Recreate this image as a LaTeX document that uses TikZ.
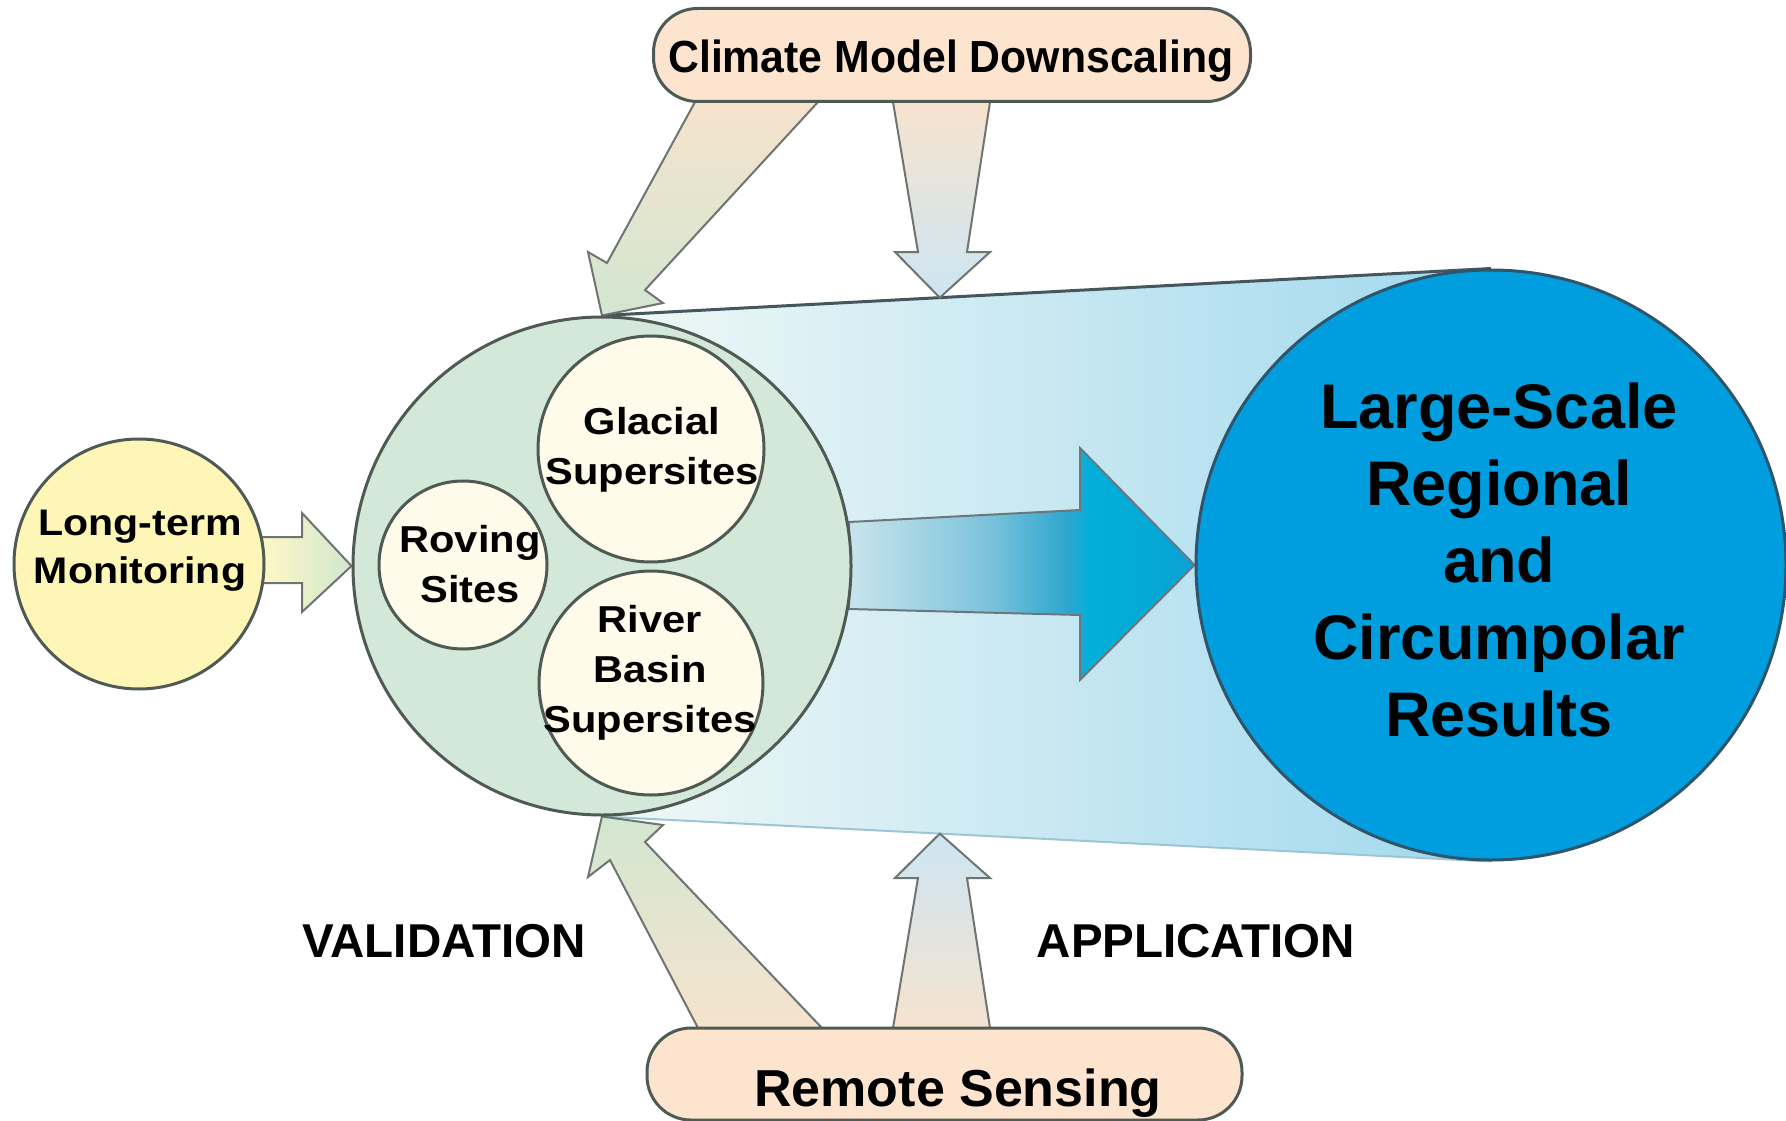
\documentclass[tikz,border=0pt]{standalone}
\usepackage{fontspec}
\setmainfont{Liberation Sans}
\newfontfamily\widesans{Liberation Sans}[FakeStretch=1.11]
\newfontfamily\narrowsans{Liberation Sans}[FakeStretch=0.95]
\usetikzlibrary{calc,backgrounds}

\definecolor{edgegray}{HTML}{4F5A55}
\definecolor{sage}{HTML}{D3E8D9}
\definecolor{cream}{HTML}{FEFBEA}
\definecolor{lemon}{HTML}{FDF6B6}
\definecolor{peach}{HTML}{FDE4CE}
\definecolor{skyblue}{HTML}{009EDF}
\definecolor{resedge}{HTML}{2E556A}
\definecolor{arrowedge}{HTML}{6E7470}
\definecolor{greenpale}{HTML}{D2E6D0}
\definecolor{bluepale}{HTML}{CDE5F3}
\definecolor{peachpale}{HTML}{F6E3CE}
\definecolor{bodyleft}{HTML}{F0F8F6}
\definecolor{bodyright}{HTML}{A0D8EE}
\definecolor{cylline}{HTML}{45565C}
\definecolor{cylbottom}{HTML}{9CC6D6}
\definecolor{arrA}{HTML}{C8E4EC}
\definecolor{arrB}{HTML}{7DC3DC}
\definecolor{arrC}{HTML}{2AA5CE}
\definecolor{arrD}{HTML}{00B0DA}
\definecolor{arrE}{HTML}{0AA2D4}

% main arrow inside the cylinder: pale on the left, cyan at the head
\pgfdeclarehorizontalshading{bigarrowshade}{100bp}{color(0bp)=(arrA); color(25bp)=(arrA); color(45bp)=(arrB); color(57bp)=(arrC); color(60bp)=(arrD); color(75bp)=(arrE); color(100bp)=(arrE)}

\begin{document}
\begin{tikzpicture}[x=1pt, y=-1pt,
  disc/.style={circle, inner sep=0pt, minimum size=#1, draw=edgegray, line width=3pt},
  pill/.style={rectangle, rounded corners=44pt, inner sep=0pt, fill=peach, draw=edgegray, line width=3pt},
  blockarrow/.style={draw=arrowedge, line width=2pt, line join=miter},
  lab/.style={inner sep=0pt, text=black, align=center},
  bigfont/.style={font=\bfseries\fontsize{63}{77}\selectfont},
  sitefont/.style={font=\widesans\bfseries\fontsize{37.5}{50}\selectfont}
]
\useasboundingbox (0,0) rectangle (1786,1121);

% ---- nodes ----
\node[pill, minimum width=597pt, minimum height=93pt] (cmd) at (952,55) {};
\node[lab, anchor=base, font=\narrowsans\bfseries\fontsize{45}{54}\selectfont] (cmdtext) at (951,73) {Climate Model Downscaling};

\node[pill, minimum width=595pt, minimum height=92pt] (rs) at (944.5,1074) {};
\node[lab, anchor=base, font=\bfseries\fontsize{52}{60}\selectfont] (rstext) at (958,1106) {Remote Sensing};

\node[disc=250pt, fill=lemon] (ltm) at (139,564) {};
\node[lab, anchor=north, font=\widesans\bfseries\fontsize{37}{48}\selectfont] (ltmtext) at (140,510) {Long-term\\Monitoring};

\node[disc=498pt, fill=sage] (sup) at (602,566) {};
\node[disc=226pt, fill=cream] (glac) at (651,449) {};
\node[lab, anchor=north, sitefont] (glactext) at (652,407) {Glacial\\Supersites};
\node[disc=168pt, fill=cream] (rov) at (463,565) {};
\node[lab, anchor=north, sitefont] (rovtext) at (470,525) {Roving\\Sites};
\node[disc=224pt, fill=cream] (riv) at (651,683) {};
\node[lab, anchor=north, sitefont] (rivtext) at (650,605) {River\\Basin\\Supersites};

\node[disc=590pt, fill=skyblue, draw=resedge] (res) at (1491,565) {};
\node[lab, anchor=north, bigfont] (restext) at (1499,383) {Large-Scale\\Regional\\and\\Circumpolar\\Results};

\node[lab, anchor=base, font=\bfseries\fontsize{47.5}{56}\selectfont] (val) at (444,957) {VALIDATION};
\node[lab, anchor=base, font=\bfseries\fontsize{47.5}{56}\selectfont] (app) at (1196,957) {APPLICATION};

% ---- cylinder body, main arrow and block arrows behind the nodes ----
\begin{scope}[on background layer]
  \shade[left color=bodyleft, right color=bodyright]
    (sup.north) -- (res.north) -- (res.south) -- (sup.south) -- cycle;
  \draw[cylline, line width=3pt] (sup.north) -- (res.north);
  \draw[cylbottom, line width=2pt] (sup.south) -- (res.south);

  \shadedraw[shading=bigarrowshade, draw=cylline!80, line width=2pt, line join=miter]
    (849,522) -- (1080,510) -- (1080,448) -- (res.west) -- (1080,680) -- (1080,615) -- (849,609) -- cycle;

  % monitoring feeds the supersites
  \shadedraw[blockarrow, left color=lemon!80!white, right color=greenpale]
    (262,537) -- (302,537) -- (302,513) -- (sup.west) -- (302,612) -- (302,583) -- (262,583) -- cycle;

  % downscaling: validation and application
  \coordinate (tipT) at ($(sup.north)!0.38!(res.north)$);
  \coordinate (tipB) at ($(sup.south)!0.38!(res.south)$);
  \shadedraw[blockarrow, top color=peachpale, bottom color=greenpale]
    (695,102) -- (607,263) -- (588,252) -- (sup.north) -- (663,303) -- (645,290) -- (818,102) -- cycle;
  \shadedraw[blockarrow, top color=peachpale, bottom color=bluepale]
    (893,102) -- (918,252) -- (895,252) -- (tipT) -- (990,252) -- (967,252) -- (990,102) -- cycle;

  % remote sensing: validation and application
  \shadedraw[blockarrow, top color=greenpale, bottom color=peachpale]
    (698,1028) -- (610,860) -- (588,877) -- (sup.south) -- (663,825) -- (645,842) -- (822,1028) -- cycle;
  \shadedraw[blockarrow, top color=bluepale, bottom color=peachpale]
    (893,1028) -- (918,878) -- (895,878) -- (tipB) -- (990,878) -- (967,878) -- (990,1028) -- cycle;
\end{scope}
\end{tikzpicture}
\end{document}
